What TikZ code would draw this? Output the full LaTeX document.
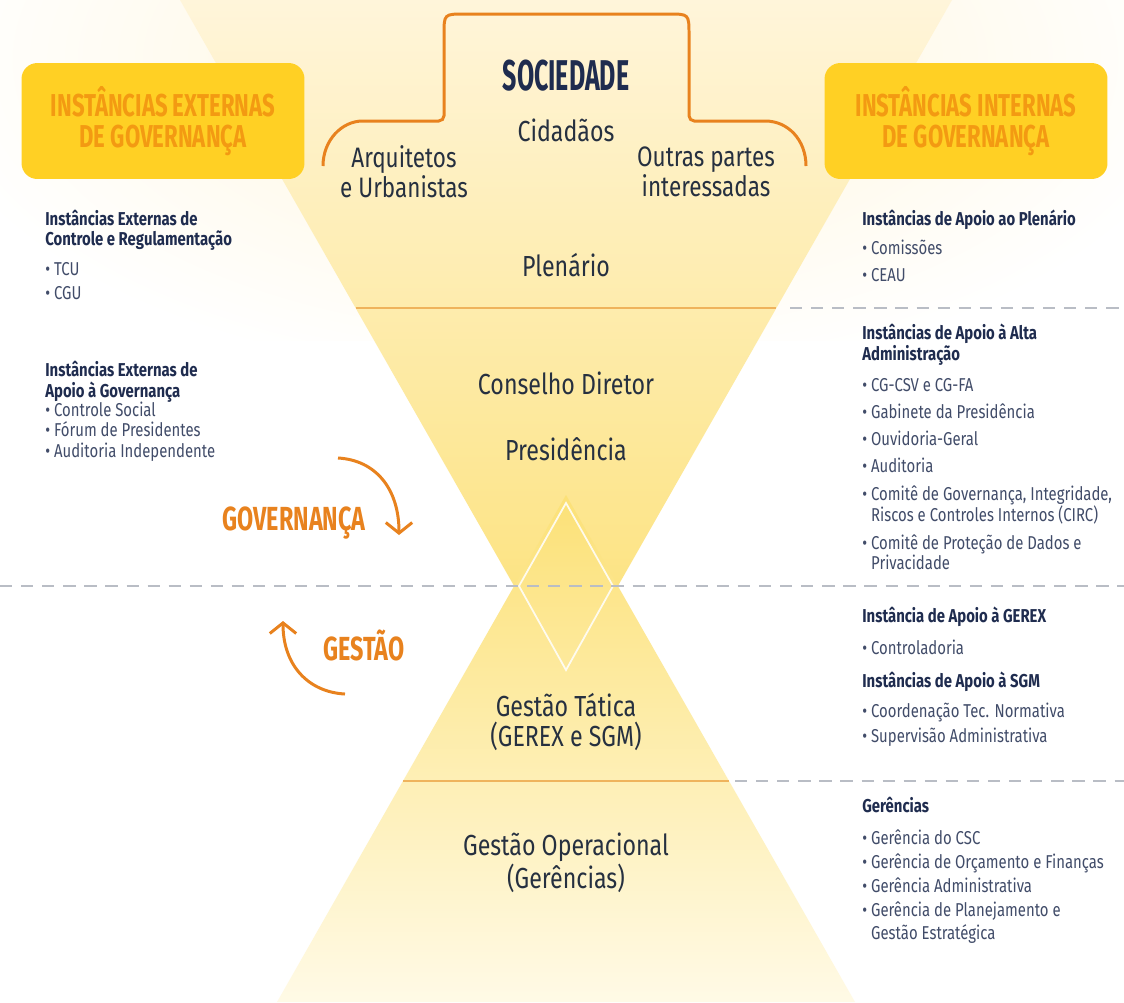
\documentclass[tikz,border=0pt]{standalone}
\usepackage{fontspec}
\setmainfont{Fira Sans}[FakeStretch=0.8]
\newfontfamily\capsfont{Fira Sans}[FakeStretch=0.7]
\newfontfamily\socfont{Fira Sans}[FakeStretch=0.58]
\usetikzlibrary{positioning, arrows.meta}

\definecolor{navy}{HTML}{1F2C4F}
\definecolor{ink}{HTML}{263040}
\definecolor{orangeline}{HTML}{E8821E}
\definecolor{boxyellow}{HTML}{FFD024}
\definecolor{boxtext}{HTML}{F39A12}
\definecolor{cream}{HTML}{FFF5DA}
\definecolor{sunny}{HTML}{FCE177}
\definecolor{pale}{HTML}{FFFAE6}
\definecolor{tanline}{HTML}{EFB35C}
\definecolor{dashgray}{HTML}{B9BDC5}

% lines of a side list, baseline at the first line
\newcommand{\textrows}[1]{\begin{tabular}[t]{@{}l@{}}#1\end{tabular}}

\begin{document}
\begin{tikzpicture}[x=0.02cm, y=-0.02cm,
    titlebox/.style={fill=boxyellow, rounded corners=9pt, minimum width=5.66cm, minimum height=2.32cm,
        align=center, text=boxtext, font=\capsfont\bfseries\fontsize{18}{17.6}\selectfont},
    tier/.style={text=ink, align=center, font=\fontsize{16.5}{17}\selectfont},
    hd/.style={anchor=base west, inner sep=0pt, text=navy, font=\bfseries\fontsize{10.6}{11.5}\selectfont},
    lst/.style={anchor=base west, inner sep=0pt, text=navy!85, font=\fontsize{10.6}{11}\selectfont},
    cyc/.style={orangeline, line width=1.7pt, -{Straight Barb[length=6pt, width=15pt]}},
    cyclabel/.style={text=orangeline, font=\capsfont\bfseries\fontsize{19}{20}\selectfont},
    socline/.style={orangeline, line width=1.7pt, rounded corners=3pt},
    dashrule/.style={dashgray, line width=1.1pt, dash pattern=on 7pt off 5pt},
    tanrule/.style={tanline, line width=1.1pt},
]
\useasboundingbox (0,0) rectangle (1124,1002);
\fill[white] (0,0) rectangle (1124,1002);

% soft glow at the top
\begin{scope}
    \clip (0,0) rectangle (1124,340);
    \shade[inner color=cream, outer color=white] (565,60) ellipse [x radius=13cm, y radius=6.5cm];
\end{scope}

% the two cones
\shade[top color=cream, bottom color=sunny] (180,0) -- (952,0) -- (566,677) -- cycle;
\shade[top color=sunny, bottom color=pale] (566,495) -- (855,1002) -- (277,1002) -- cycle;
\draw[white, line width=1pt, opacity=.85] (566,503) -- (613,586) -- (566,670) -- (519,586) -- cycle;

\draw[tanrule] (356,308) -- (776,308);
\draw[tanrule] (403,781) -- (729,781);
\draw[dashrule] (790,308) -- (1124,308);
\draw[dashrule] (0,586) -- (1124,586);
\draw[dashrule] (735,781) -- (1124,781);

% sociedade outline
\draw[socline] (323,166) .. controls (323,140) and (342,121) .. (368,121) -- (444,121) -- (444,40)
    .. controls (444,14) .. (470,14) -- (663,14) .. controls (689,14) .. (689,40) -- (689,121)
    -- (760,121) .. controls (788,121) and (806,140) .. (806,166);

% boxes
\node[titlebox] (ext) at (163,121) {INSTÂNCIAS EXTERNAS\\DE GOVERNANÇA};
\node[titlebox] (int) at (966,121) {INSTÂNCIAS INTERNAS\\DE GOVERNANÇA};

% centre labels
\node[text=navy, font=\socfont\bfseries\fontsize{24.5}{25}\selectfont] (soc) at (566,76) {SOCIEDADE};
\node[tier] (cid) at (566,130) {Cidadãos};
\node[tier, font=\fontsize{16}{14.5}\selectfont] (arq) at (404,172) {Arquitetos\\e Urbanistas};
\node[tier, font=\fontsize{16}{14.5}\selectfont] (outr) at (706,172) {Outras partes\\interessadas};
\node[tier] (plen) at (566,265) {Plenário};
\node[tier] (cons) at (566,383) {Conselho Diretor};
\node[tier] (pres) at (566,449) {Presidência};
\node[tier] (tat) at (566,722) {Gestão Tática\\(GEREX e SGM)};
\node[tier, font=\fontsize{16.5}{19}\selectfont] (oper) at (566,863) {Gestão Operacional\\(Gerências)};

% left column
\node[hd] (hdEC) at (45,225) {\textrows{Instâncias Externas de\\Controle e Regulamentação}};
\node[lst] (lsEC) at (45,275) {\textrows{\textbullet\ TCU\\[3pt]
\textbullet\ CGU}};
\node[hd] (hdEA) at (45,376) {\textrows{Instâncias Externas de\\Apoio à Governança}};
\node[lst] (lsEA) at (45,416) {\textrows{\textbullet\ Controle Social\\
\textbullet\ Fórum de Presidentes\\
\textbullet\ Auditoria Independente}};

% right column
\node[hd] (hdPl) at (862,225) {Instâncias de Apoio ao Plenário};
\node[lst] (lsPl) at (862,254) {\textrows{\textbullet\ Comissões\\[4.9pt]
\textbullet\ CEAU}};
\node[hd] (hdAA) at (862,339) {\textrows{Instâncias de Apoio à Alta\\Administração}};
\node[lst] (lsAA) at (862,391) {\textrows{\textbullet\ CG-CSV e CG-FA\\[3.9pt]
\textbullet\ Gabinete da Presidência\\[3.9pt]
\textbullet\ Ouvidoria-Geral\\[3.9pt]
\textbullet\ Auditoria\\[3.9pt]
\textbullet\ Comitê de Governança, Integridade,\\
\phantom{\textbullet\ }Riscos e Controles Internos (CIRC)\\[3.9pt]
\textbullet\ Comitê de Proteção de Dados e\\
\phantom{\textbullet\ }Privacidade}};
\node[hd] (hdGx) at (862,622) {Instância de Apoio à GEREX};
\node[lst] (lsGx) at (862,654) {\textbullet\ Controladoria};
\node[hd] (hdSg) at (862,687) {Instâncias de Apoio à SGM};
\node[lst] (lsSg) at (862,717) {\textrows{\textbullet\ Coordenação Tec. Normativa\\[3.2pt]
\textbullet\ Supervisão Administrativa}};
\node[hd] (hdGr) at (862,812) {Gerências};
\node[lst] (lsGr) at (862,844) {\textrows{\textbullet\ Gerência do CSC\\[2pt]
\textbullet\ Gerência de Orçamento e Finanças\\[2pt]
\textbullet\ Gerência Administrativa\\[2pt]
\textbullet\ Gerência de Planejamento e\\[1.5pt]
\phantom{\textbullet\ }Gestão Estratégica}};

% governance / management cycle
\node[cyclabel] (gov) at (294,523) {GOVERNANÇA};
\node[cyclabel] (gest) at (364,645) {GESTÃO};
\coordinate (govA) at (338,458);
\coordinate (govB) at (399,535);
\coordinate (gesA) at (345,694);
\coordinate (gesB) at (283,621);
\draw[cyc] (govA) .. controls (375,460) and (399,488) .. (govB);
\draw[cyc] (gesA) .. controls (308,692) and (283,665) .. (gesB);
\end{tikzpicture}
\end{document}
